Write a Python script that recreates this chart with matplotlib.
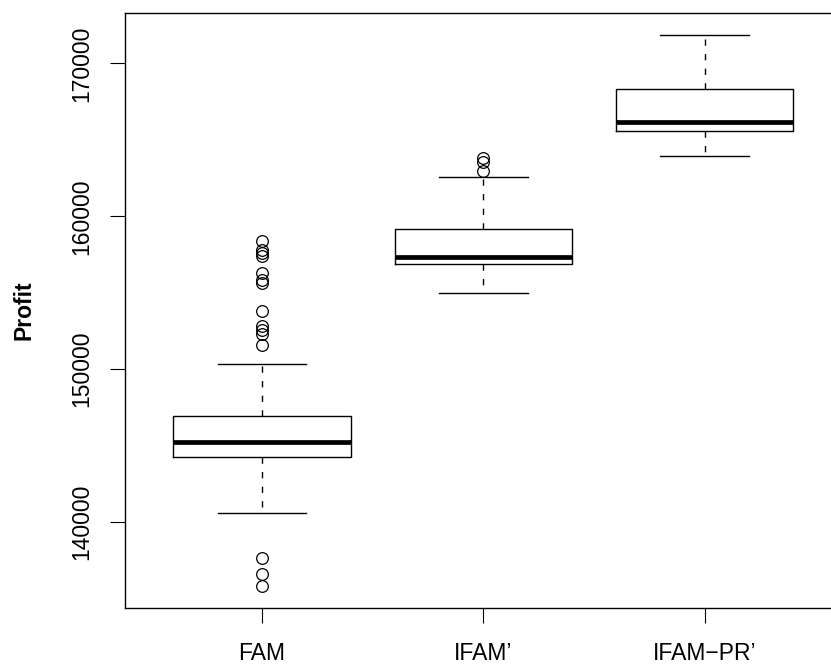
import matplotlib
matplotlib.use("Agg")
import matplotlib.pyplot as plt

plt.rcParams['font.family'] = ['Liberation Sans', 'DejaVu Sans']

# groups and box statistics
groups = ["FAM", "IFAM\u2019", "IFAM\u2212PR\u2019"]
q1 = [144230, 156860, 165580]
med = [145210, 157370, 166170]
q3 = [146970, 159200, 168350]
whis_lo = [140570, 154990, 163970]
whis_hi = [150310, 162600, 171880]
outliers = [
    [158390, 157820, 157630, 157390, 156260, 155820, 155640, 153810,
     152810, 152550, 152270, 151590, 137670, 136600, 135820],
    [163810, 163550, 162940],
    [],
]

stats = []
for i in range(len(groups)):
    stats.append(dict(med=med[i], q1=q1[i], q3=q3[i],
                      whislo=whis_lo[i], whishi=whis_hi[i],
                      fliers=outliers[i], label=groups[i]))

fig = plt.figure(figsize=(8.31, 6.69), dpi=100)
# right edge of the frame falls outside the picture, as in the original
ax = fig.add_axes([124.7 / 831, 1 - 607.7 / 669, (842 - 124.7) / 831, (607.7 - 12.5) / 669])

ax.bxp(stats, positions=[1, 2, 3], widths=0.8, patch_artist=False,
       boxprops=dict(color='black', linewidth=1.0),
       medianprops=dict(color='black', linewidth=3.4, solid_capstyle='butt'),
       whiskerprops=dict(color='black', linewidth=1.0, dashes=(4.5, 6)),
       capprops=dict(color='black', linewidth=1.0),
       capwidths=0.4,
       flierprops=dict(marker='o', markerfacecolor='none', markeredgecolor='black',
                       markersize=8.4, markeredgewidth=0.9))

ax.set_xlim(0.38, 3.62)
ax.set_ylim(134400, 173330)
ax.set_yticks([140000, 150000, 160000, 170000])
ax.set_yticklabels(['140000', '150000', '160000', '170000'], rotation=90, va='center')
ax.set_xticks([1, 2, 3])
ax.set_xticklabels(groups)

ax.tick_params(axis='both', direction='out', length=10.8, width=0.8, labelsize=16.5)
ax.tick_params(axis='y', pad=12)
ax.tick_params(axis='x', pad=14)
for s in ax.spines.values():
    s.set_linewidth(1.0)

ax.set_ylabel('Profit', fontsize=16.5, fontweight='bold', va='center')
ax.yaxis.set_label_coords((24 - 124.7) / (842 - 124.7), 0.5)

fig.savefig('out.png', dpi=100)
